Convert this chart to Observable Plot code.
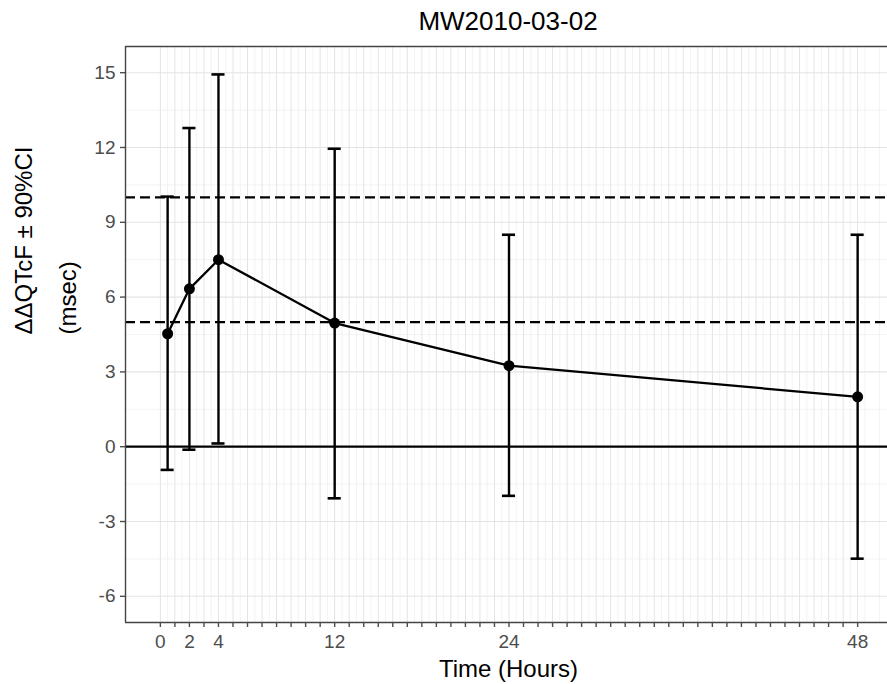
<!DOCTYPE html>
<html>
<head>
<meta charset="utf-8">
<script src="https://cdn.jsdelivr.net/npm/d3@7"></script>
<script src="https://cdn.jsdelivr.net/npm/@observablehq/plot@0.6"></script>
<style>
  html, body { margin: 0; padding: 0; background: #fff; overflow: hidden; }
  #title { position: relative; height: 40px; font-family: "Liberation Sans", Arial, sans-serif; }
  #title span { position: absolute; left: 508px; top: 8px; transform: translateX(-50%); font-size: 26px; line-height: 26px; color: #000; white-space: nowrap; }
  svg { display: block; }
</style>
</head>
<body>
<div id="title"><span>MW2010-03-02</span></div>
<div id="chart"></div>
<script>
// ---- data ----
const times = [0.5, 2, 4, 12, 24, 48];
const means = [4.53, 6.33, 7.5, 4.96, 3.25, 2.0];
const lowers = [-0.93, -0.12, 0.13, -2.07, -1.97, -4.49];
const uppers = [10.03, 12.78, 14.93, 11.95, 8.5, 8.5];
const xTickValues = d3.range(0, 49, 1);
const xTickLabels = [0, 2, 4, 12, 24, 48];
const yTickValues = [-6, -3, 0, 3, 6, 9, 12, 15];
const yMinorValues = [-4.5, -1.5, 1.5, 4.5, 7.5, 10.5, 13.5];
const xMinorValues = d3.range(0.5, 51, 1);
const refDashed = [5, 10];
const refSolid = [0];
const titleText = "MW2010-03-02";
const xTitle = "Time (Hours)";
const yTitle = "ΔΔQTcF ± 90%CI\n(msec)";
const xDomain = [-2.4, 50.4];
const yDomain = [-7.05, 16.05];

const data = times.map((t, i) => ({t, mean: means[i], lower: lowers[i], upper: uppers[i]}));
const capHalf = 0.45;

const font = "Liberation Sans, Arial, sans-serif";

const plot = Plot.plot({
  width: 887,
  height: 644,
  marginTop: 6,
  marginBottom: 62,
  marginLeft: 125,
  marginRight: 0,
  style: {fontFamily: font, background: "#fff"},
  x: {domain: xDomain, range: [125, 892]},
  y: {domain: yDomain},
  marks: [
    Plot.gridX(xMinorValues, {stroke: "#ebebeb", strokeOpacity: 1, strokeWidth: 0.6}),
    Plot.gridX(xTickValues, {stroke: "#e4e4e4", strokeOpacity: 1, strokeWidth: 1}),
    Plot.gridY(yMinorValues, {stroke: "#ebebeb", strokeOpacity: 1, strokeWidth: 0.6}),
    Plot.gridY(yTickValues, {stroke: "#e4e4e4", strokeOpacity: 1, strokeWidth: 1.1}),
    Plot.ruleY(refDashed, {stroke: "#000", strokeWidth: 2.3, strokeDasharray: "10,5"}),
    Plot.ruleY(refSolid, {stroke: "#000", strokeWidth: 2.3}),
    Plot.ruleX(data, {x: "t", y1: "lower", y2: "upper", stroke: "#000", strokeWidth: 2.4}),
    Plot.ruleY(data, {y: "upper", x1: d => d.t - capHalf, x2: d => d.t + capHalf, stroke: "#000", strokeWidth: 2.6}),
    Plot.ruleY(data, {y: "lower", x1: d => d.t - capHalf, x2: d => d.t + capHalf, stroke: "#000", strokeWidth: 2.6}),
    Plot.line(data, {x: "t", y: "mean", stroke: "#000", strokeWidth: 2.3}),
    Plot.dot(data, {x: "t", y: "mean", r: 5.5, fill: "#000", stroke: "none"}),
    // panel border (left, top, bottom)
    Plot.ruleX([xDomain[0]], {stroke: "#444", strokeWidth: 1.4}),
    Plot.ruleY([yDomain[1]], {stroke: "#444", strokeWidth: 1.4}),
    Plot.ruleY([yDomain[0]], {stroke: "#444", strokeWidth: 1.4}),
    Plot.axisX({ticks: xTickValues, tickFormat: d => xTickLabels.includes(d) ? String(d) : "", tickSize: 5, tickPadding: 7, fontSize: 19, color: "#4d4d4d", strokeWidth: 1.4, label: null}),
    Plot.axisY({ticks: yTickValues, tickFormat: d => String(d), tickSize: 5, tickPadding: 5, fontSize: 19, color: "#4d4d4d", strokeWidth: 1.4, label: null}),
    Plot.text([xTitle], {frameAnchor: "bottom", dy: 54, dx: 2, lineAnchor: "bottom", fontSize: 24, fill: "#000"}),
    Plot.text([yTitle], {frameAnchor: "left", dx: -86, rotate: -90, lineHeight: 1.83, fontSize: 24, fill: "#000"})
  ]
});
document.getElementById("chart").appendChild(plot);
</script>
</body>
</html>
